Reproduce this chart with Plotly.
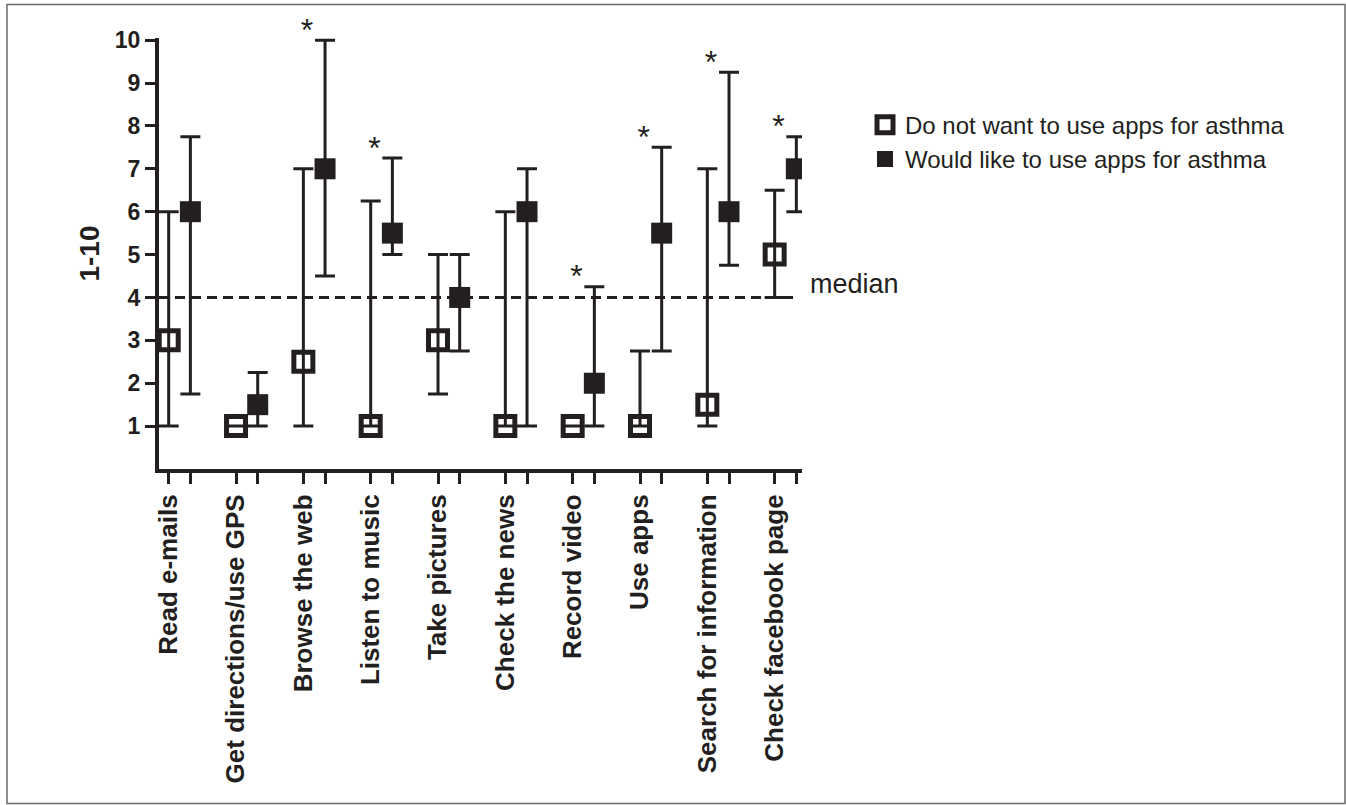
import plotly.graph_objects as go

# ---- data ----
categories = ["Read e-mails", "Get directions/use GPS", "Browse the web", "Listen to music",
              "Take pictures", "Check the news", "Record video", "Use apps",
              "Search for information", "Check facebook page"]

no_median = [3, 1, 2.5, 1, 3, 1, 1, 1, 1.5, 5]
no_lower = [1, 1, 1, 1, 1.75, 1, 1, 1, 1, 4]
no_upper = [6, 1, 7, 6.25, 5, 6, 1, 2.75, 7, 6.5]

yes_median = [6, 1.5, 7, 5.5, 4, 6, 2, 5.5, 6, 7]
yes_lower = [1.75, 1, 4.5, 5, 2.75, 1, 1, 2.75, 4.75, 6]
yes_upper = [7.75, 2.25, 10, 7.25, 5, 7, 4.25, 7.5, 9.25, 7.75]

significant = [False, False, True, True, False, False, True, True, True, True]
median_level = 4
y_ticks = [1, 2, 3, 4, 5, 6, 7, 8, 9, 10]

series_names = ["Do not want to use apps for asthma", "Would like to use apps for asthma"]

# ---- layout helpers ----
INK = "#231f20"
FONT = "Arial, Liberation Sans, sans-serif"
OFF = 0.161
n = len(categories)
x_no = [i - OFF for i in range(n)]
x_yes = [i + OFF for i in range(n)]
X_RANGE = [-0.305, 9.245]
Y_RANGE = [0, 10.05]


def to_paper_x(v):
    return (v - X_RANGE[0]) / (X_RANGE[1] - X_RANGE[0])


fig = go.Figure()

fig.add_trace(go.Scatter(
    x=x_no, y=no_median, mode="markers", name=series_names[0],
    marker=dict(symbol="square-open", size=19, color=INK, line=dict(width=5, color=INK)),
    error_y=dict(type="data", symmetric=False,
                 array=[u - m for u, m in zip(no_upper, no_median)],
                 arrayminus=[m - l for m, l in zip(no_median, no_lower)],
                 thickness=3, width=10, color=INK),
))

fig.add_trace(go.Scatter(
    x=x_yes, y=yes_median, mode="markers", name=series_names[1],
    marker=dict(symbol="square", size=21, color=INK, line=dict(width=0)),
    error_y=dict(type="data", symmetric=False,
                 array=[u - m for u, m in zip(yes_upper, yes_median)],
                 arrayminus=[m - l for m, l in zip(yes_median, yes_lower)],
                 thickness=3, width=10, color=INK),
))

# significance stars, placed just above the upper whisker of the "would like" group
star_x = [x + 0.055 for x, s in zip(x_no, significant) if s]
star_y = [u - 0.2 for u, s in zip(yes_upper, significant) if s]
fig.add_trace(go.Scatter(
    x=star_x, y=star_y, mode="text", text=["*"] * len(star_x),
    textposition="top center", textfont=dict(size=32, color=INK, family=FONT),
    showlegend=False, hoverinfo="skip", cliponaxis=False,
))

# median dashed line
fig.add_shape(type="line", xref="x", yref="y", x0=X_RANGE[0], x1=x_yes[-1] + 0.01,
              y0=median_level, y1=median_level,
              line=dict(color=INK, width=3, dash="10px,6px"))
fig.add_annotation(x=to_paper_x(x_yes[-1] + 0.17), y=median_level, xref="paper", yref="y",
                   text="median", showarrow=False, xanchor="left", yanchor="bottom",
                   font=dict(size=27, color=INK, family=FONT), yshift=-4)

# outer border of the figure
fig.add_shape(type="rect", xref="paper", yref="paper",
              x0=-0.2364, x1=1.8445, y0=-0.776, y1=1.0776,
              line=dict(color="#6a6a6a", width=1.5), layer="below")

tickvals = []
ticktext = []
for i in range(n):
    tickvals += [x_no[i], x_yes[i]]
    ticktext += [categories[i], ""]

fig.update_layout(
    width=1346, height=805,
    margin=dict(l=159, r=544, t=38, b=336),
    paper_bgcolor="white", plot_bgcolor="white",
    font=dict(family=FONT, color=INK),
    showlegend=True,
    legend=dict(x=1.098, y=0.85, xanchor="left", yanchor="top",
                font=dict(size=24, color=INK, family=FONT),
                bgcolor="rgba(0,0,0,0)", itemwidth=30, tracegroupgap=0),
    xaxis=dict(range=X_RANGE, showgrid=False, zeroline=False,
               showline=True, linewidth=4, linecolor=INK,
               tickmode="array", tickvals=tickvals, ticktext=ticktext,
               ticks="outside", ticklen=11, tickwidth=3, tickcolor=INK,
               tickangle=-90, tickfont=dict(size=26, color=INK, family=FONT, weight="bold")),
    yaxis=dict(range=Y_RANGE, showgrid=False, zeroline=False,
               showline=True, linewidth=4, linecolor=INK,
               tickmode="array", tickvals=y_ticks, ticktext=[str(v) for v in y_ticks],
               ticks="outside", ticklen=10, tickwidth=3, tickcolor=INK,
               tickfont=dict(size=23, color=INK, family=FONT, weight="bold"),
               title=dict(text="1-10", standoff=8,
                          font=dict(size=28, color=INK, family=FONT, weight="bold"))),
)

fig.write_html("out.html")
